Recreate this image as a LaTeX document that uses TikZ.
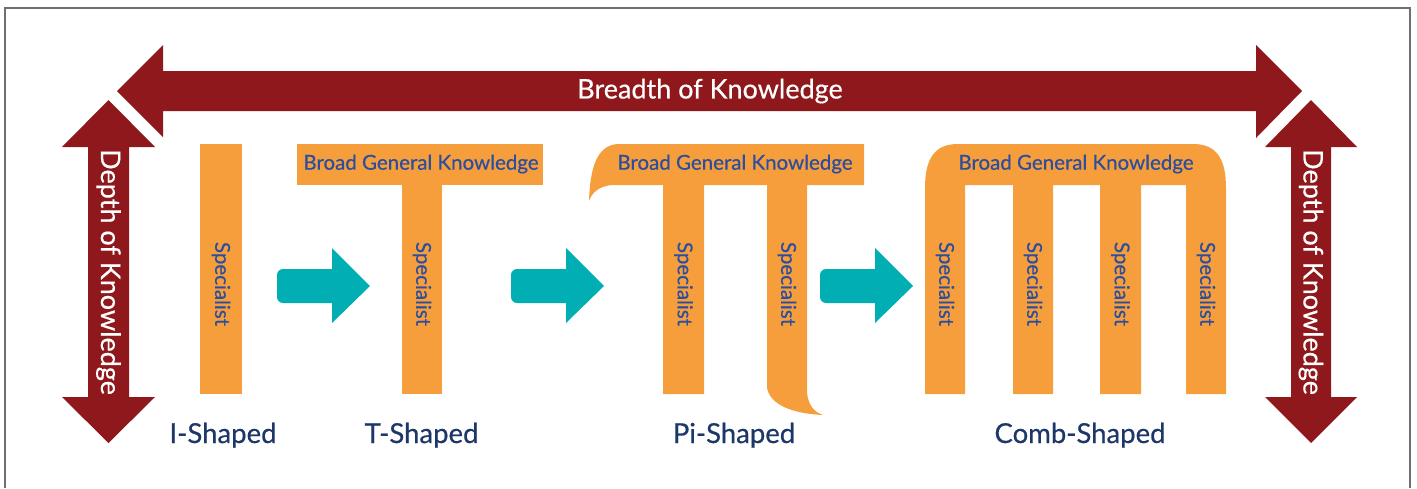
\documentclass[tikz,border=0pt]{standalone}
\usepackage{fontspec}
\setmainfont{Lato}[FakeBold=0.5]
\definecolor{kred}{HTML}{8E181B}
\definecolor{korange}{HTML}{F69D3C}
\definecolor{kteal}{HTML}{00AEB3}
\definecolor{kblue}{HTML}{2B4E9E}
\definecolor{knavy}{HTML}{1D3767}
\definecolor{kgrey}{HTML}{6F6F6F}
\tikzset{
  bigarrow/.style={fill=kred},
  shapefill/.style={fill=korange},
  flowarrow/.style={fill=kteal},
  whitetxt/.style={text=white, font=\fontsize{27}{32}\selectfont, inner sep=0pt},
  spectxt/.style={text=kblue, font=\fontsize{20.5}{24}\selectfont, rotate=-90, inner sep=0pt},
  broadtxt/.style={text=kblue, font=\fontsize{20.5}{24}\selectfont, inner sep=0pt},
  labeltxt/.style={text=knavy, font=\fontsize{27.5}{32}\selectfont, anchor=base, inner sep=0pt},
}
\begin{document}
\begin{tikzpicture}[x=1pt, y=-1pt]
\useasboundingbox (0,0) rectangle (1417,488);
% frame
\draw[kgrey, line width=1.5pt] (5,488) -- (5,8) -- (1410,8) -- (1410,488);
% breadth arrow
\fill[bigarrow] (117,91) -- (163,45) -- (163,71) -- (1256,71) -- (1256,45) -- (1302,91)
  -- (1256,138) -- (1256,111) -- (163,111) -- (163,137) -- cycle;
\node[whitetxt] (breadth) at (710,91) {Breadth of Knowledge};
% depth arrows
\fill[bigarrow] (108.5,100) -- (155,147) -- (129,147) -- (129,397) -- (155,397) -- (108.5,443)
  -- (62,397) -- (88,397) -- (88,147) -- (62,147) -- cycle;
\node[whitetxt, rotate=-90] (depthL) at (108.5,272) {Depth of Knowledge};
\fill[bigarrow] (1311,100) -- (1357,147) -- (1331,147) -- (1331,397) -- (1357,397) -- (1311,443)
  -- (1265,397) -- (1291,397) -- (1291,147) -- (1265,147) -- cycle;
\node[whitetxt, rotate=-90] (depthR) at (1311,272) {Depth of Knowledge};
% I shape
\fill[shapefill] (200,144) rectangle (242,394);
\node[spectxt] (specI) at (221,284) {Specialist};
\node[labeltxt] (lblI) at (223,443) {I-Shaped};
% T shape
\fill[shapefill] (297,144) rectangle (543,185);
\fill[shapefill] (402,184) rectangle (442,394);
\node[broadtxt] (broadT) at (421,164) {Broad General Knowledge};
\node[spectxt] (specT) at (422,284) {Specialist};
\node[labeltxt] (lblT) at (421.5,443) {T-Shaped};
% Pi shape
\fill[shapefill] (864,144) -- (864,185) -- (807,185) -- (807,392)
  .. controls (808,405) and (814,412) .. (823,415)
  .. controls (800,414) and (771,408) .. (767,388)
  -- (767,185) -- (704,185) -- (704,394) -- (663,394) -- (663,185) -- (612,185)
  .. controls (600,186) and (592,192) .. (589,201)
  .. controls (590,170) and (596,145) .. (618,144) -- cycle;
\node[broadtxt] (broadPi) at (735,164) {Broad General Knowledge};
\node[spectxt] (specPi1) at (683.5,284) {Specialist};
\node[spectxt] (specPi2) at (787,284) {Specialist};
\node[labeltxt] (lblPi) at (734,443) {Pi-Shaped};
% Comb shape
\fill[shapefill] (925,394) -- (925,188) .. controls (925,158) and (935,144) .. (958,144)
  -- (1193,144) .. controls (1216,144) and (1226,158) .. (1226,188)
  -- (1226,394) -- (1186,394) -- (1186,185) -- (1141,185) -- (1141,394) -- (1100,394)
  -- (1100,185) -- (1053,185) -- (1053,394) -- (1013,394) -- (1013,185) -- (965,185)
  -- (965,394) -- cycle;
\node[broadtxt] (broadC) at (1076,164) {Broad General Knowledge};
\node[spectxt] (specC1) at (945,284) {Specialist};
\node[spectxt] (specC2) at (1033,284) {Specialist};
\node[spectxt] (specC3) at (1120.5,284) {Specialist};
\node[spectxt] (specC4) at (1206,284) {Specialist};
\node[labeltxt] (lblC) at (1080,443) {Comb-Shaped};
% teal flow arrows
\foreach \x in {277,511,820}{
  \fill[flowarrow, rounded corners=6pt] (\x,269) rectangle (\x+62,303);
  \fill[flowarrow] (\x+55,248) -- (\x+93,286) -- (\x+55,323) -- cycle;
}
\end{tikzpicture}
\end{document}
